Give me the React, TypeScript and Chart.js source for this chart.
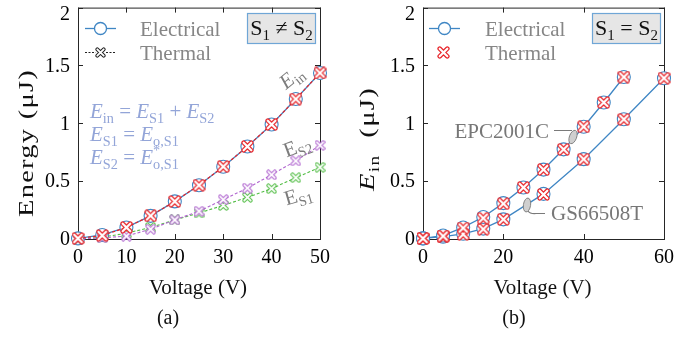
import React, { useEffect, useRef } from 'react';
import { Chart, registerables } from 'chart.js';
Chart.register(...registerables);

// ---------- data ----------
const voltageA = [0, 5, 10, 15, 20, 25, 30, 35, 40, 45, 50];
const einElecA = [0.005, 0.035, 0.1, 0.2, 0.325, 0.465, 0.625, 0.8, 0.99, 1.21, 1.435];
const einThermA = [0.005, 0.03, 0.1, 0.2, 0.325, 0.465, 0.625, 0.8, 0.99, 1.21, 1.435];
const es2ThermA = [0, 0.01, 0.025, 0.085, 0.165, 0.24, 0.34, 0.44, 0.555, 0.675, 0.81];
const es1ThermA = [0, 0.015, 0.05, 0.1, 0.165, 0.225, 0.29, 0.36, 0.435, 0.53, 0.62];

const voltageEpc = [0, 5, 10, 15, 20, 25, 30, 35, 40, 45, 50];
const einElecEpc = [0.005, 0.03, 0.1, 0.19, 0.31, 0.445, 0.6, 0.775, 0.97, 1.18, 1.4];
const einThermEpc = [0.005, 0.025, 0.095, 0.18, 0.305, 0.445, 0.6, 0.775, 0.97, 1.18, 1.4];
const voltageGs = [0, 5, 10, 15, 20, 30, 40, 50, 60];
const einElecGs = [0.005, 0.02, 0.045, 0.09, 0.17, 0.39, 0.69, 1.035, 1.39];
const einThermGs = [0.005, 0.02, 0.04, 0.085, 0.17, 0.385, 0.69, 1.035, 1.39];

const yTickValues = [0, 0.5, 1, 1.5, 2];

// ---------- styles ----------
const SERIF = "'Liberation Serif', 'Times New Roman', serif";
const BLUE = '#3f86c4';
const RED = '#e8262b';
const PURPLE = '#b064cf';
const GREEN = '#52bd45';
const GRAY = '#868686';
const FORMULA = '#93a5d8';

type Seg = { t: string; it?: boolean; sub?: boolean; sup?: boolean; noAdv?: boolean };

function segFont(s: Seg, size: number) {
  const sz = s.sub || s.sup ? size * 0.68 : size;
  return `${s.it ? 'italic ' : ''}${sz}px ${SERIF}`;
}
function richWidth(ctx: CanvasRenderingContext2D, segs: Seg[], size: number) {
  let w = 0;
  for (const s of segs) {
    ctx.font = segFont(s, size);
    if (!s.noAdv) w += ctx.measureText(s.t).width;
  }
  return w;
}
function drawRich(
  ctx: CanvasRenderingContext2D,
  segs: Seg[],
  x: number,
  y: number,
  size: number,
  color: string,
  align: 'left' | 'center' | 'right' = 'left'
) {
  const w = richWidth(ctx, segs, size);
  let cx = align === 'left' ? x : align === 'center' ? x - w / 2 : x - w;
  ctx.save();
  ctx.fillStyle = color;
  ctx.textBaseline = 'alphabetic';
  ctx.textAlign = 'left';
  for (const s of segs) {
    ctx.font = segFont(s, size);
    const dy = s.sub ? size * 0.22 : s.sup ? -size * 0.42 : 0;
    ctx.fillText(s.t, cx, y + dy);
    if (!s.noAdv) cx += ctx.measureText(s.t).width;
  }
  ctx.restore();
}

function makeX(color: string, size: number, outer: number, inner: number) {
  const c = document.createElement('canvas');
  c.width = size;
  c.height = size;
  const g = c.getContext('2d')!;
  const a = outer / 2 + 0.4;
  g.lineCap = 'round';
  g.beginPath();
  g.moveTo(a, a);
  g.lineTo(size - a, size - a);
  g.moveTo(size - a, a);
  g.lineTo(a, size - a);
  g.strokeStyle = color;
  g.lineWidth = outer;
  g.stroke();
  g.strokeStyle = '#ffffff';
  g.lineWidth = inner;
  g.stroke();
  return c;
}

function pts(xs: number[], ys: number[]) {
  return xs.map((x, i) => ({ x, y: ys[i] }));
}

function drawLegendAndBox(ctx: CanvasRenderingContext2D, panel: 'a' | 'b', xBlack: HTMLCanvasElement, xRed: HTMLCanvasElement, boxSym: string) {
  const lx0 = panel === 'a' ? 85 : 83;
  const lx1 = lx0 + 31;
  const mid = (lx0 + lx1) / 2;
  ctx.save();
  ctx.strokeStyle = BLUE;
  ctx.lineWidth = 1.3;
  ctx.beginPath();
  ctx.moveTo(lx0, 28.5);
  ctx.lineTo(lx1, 28.5);
  ctx.stroke();
  ctx.beginPath();
  ctx.arc(mid, 28.5, 6, 0, Math.PI * 2);
  ctx.fillStyle = '#fff';
  ctx.fill();
  ctx.stroke();
  if (panel === 'a') {
    ctx.strokeStyle = '#222';
    ctx.lineWidth = 1.1;
    ctx.setLineDash([2, 1.5]);
    ctx.beginPath();
    ctx.moveTo(lx0, 52.5);
    ctx.lineTo(lx1, 52.5);
    ctx.stroke();
    ctx.setLineDash([]);
    ctx.fillStyle = '#fff';
    ctx.fillRect(mid - 5, 47.5, 10, 10);
    ctx.drawImage(xBlack, mid - xBlack.width / 2, 52.5 - xBlack.height / 2);
  } else {
    ctx.drawImage(xRed, mid - 1 - xRed.width / 2, 52.5 - xRed.height / 2);
  }
  ctx.restore();
  drawRich(ctx, [{ t: 'Electrical' }], panel === 'a' ? 140 : 139, 35.5, 21, GRAY);
  drawRich(ctx, [{ t: 'Thermal' }], panel === 'a' ? 140 : 139, 59.5, 21, GRAY);

  const bx = panel === 'a' ? 247 : 246;
  ctx.save();
  ctx.fillStyle = '#e6e6e6';
  ctx.strokeStyle = '#6fa6d6';
  ctx.lineWidth = 1.2;
  ctx.fillRect(bx + 0.5, 13.5, 68, 30);
  ctx.strokeRect(bx + 0.5, 13.5, 68, 30);
  ctx.restore();
  drawRich(
    ctx,
    [{ t: 'S' }, { t: '1', sub: true }, { t: ` ${boxSym} ` }, { t: 'S' }, { t: '2', sub: true }],
    bx + 34.5,
    35,
    22,
    '#111',
    'center'
  );
}

function stretchedTitle(ctx: CanvasRenderingContext2D, segs: Seg[], cx: number, cy: number, size: number, target: number) {
  ctx.save();
  ctx.translate(cx, cy);
  ctx.rotate(-Math.PI / 2);
  (ctx as any).letterSpacing = '1px';
  const w = richWidth(ctx, segs, size);
  ctx.scale(target / w, 1);
  drawRich(ctx, segs, 0, 8, size, '#111', 'center');
  ctx.restore();
}

function decoPlugin(panel: 'a' | 'b', xBlack: HTMLCanvasElement, xRed: HTMLCanvasElement) {
  return {
    id: 'deco' + panel,
    beforeDatasetsDraw(chart: any) {
      const { ctx, chartArea: ca, scales } = chart;
      const xs = scales.x;
      const ys = scales.y;
      ctx.save();
      ctx.strokeStyle = '#262626';
      ctx.lineWidth = 1;
      ctx.strokeRect(ca.left + 0.5, ca.top + 0.5, ca.right - ca.left, ca.bottom - ca.top);
      ctx.beginPath();
      for (const t of xs.ticks) {
        const p = Math.round(xs.getPixelForValue(t.value)) + 0.5;
        ctx.moveTo(p, ca.bottom);
        ctx.lineTo(p, ca.bottom - 5);
        ctx.moveTo(p, ca.top);
        ctx.lineTo(p, ca.top + 5);
      }
      for (const t of ys.ticks) {
        const p = Math.round(ys.getPixelForValue(t.value)) + 0.5;
        ctx.moveTo(ca.left, p);
        ctx.lineTo(ca.left + 5, p);
        ctx.moveTo(ca.right, p);
        ctx.lineTo(ca.right - 5, p);
      }
      ctx.stroke();
      ctx.fillStyle = '#000';
      ctx.font = `20px ${SERIF}`;
      ctx.textAlign = 'right';
      ctx.textBaseline = 'middle';
      for (const t of ys.ticks) {
        const p = Math.max(ys.getPixelForValue(t.value), ca.top + 6);
        ctx.fillText(String(t.value), ca.left - 8, p + 1);
      }
      ctx.restore();
    },
    afterDraw(chart: any) {
      const { ctx, chartArea: ca } = chart;
      const cxPlot = (ca.left + ca.right) / 2;
      drawRich(ctx, [{ t: 'Voltage (V)' }], cxPlot - 1, 294, 21, '#111', 'center');
      drawRich(ctx, [{ t: panel === 'a' ? '(a)' : '(b)' }], 168, 324, 20, '#111', 'center');

      if (panel === 'a') {
        stretchedTitle(ctx, [{ t: 'Energy (\u03bcJ)' }], 25, 143, 22, 148);
      } else {
        stretchedTitle(ctx, [{ t: 'E', it: true }, { t: 'in', sub: true }, { t: '  (\u03bcJ)' }], 20, 139, 22, 104);
      }

      drawLegendAndBox(ctx, panel, xBlack, xRed, panel === 'a' ? '\u2260' : '=');

      if (panel === 'a') {
        drawRich(ctx, [{ t: 'E', it: true }, { t: 'in', sub: true }, { t: ' = ' }, { t: 'E', it: true }, { t: 'S1', sub: true }, { t: ' + ' }, { t: 'E', it: true }, { t: 'S2', sub: true }], 90, 118, 21, FORMULA);
        drawRich(ctx, [{ t: 'E', it: true }, { t: 'S1', sub: true }, { t: ' = ' }, { t: 'E', it: true }, { t: 'o,S1', sub: true }], 90, 141, 21, FORMULA);
        drawRich(ctx, [{ t: 'E', it: true }, { t: 'S2', sub: true }, { t: ' = ' }, { t: 'E', it: true }, { t: '*', sup: true, noAdv: true }, { t: 'o,S1', sub: true }], 90, 164, 21, FORMULA);
        const lab = (segs: Seg[], x: number, y: number, ang: number) => {
          ctx.save();
          ctx.translate(x, y);
          ctx.rotate(ang);
          drawRich(ctx, segs, 0, 7, 21, '#7c7c7c', 'center');
          ctx.restore();
        };
        lab([{ t: 'E', it: true }, { t: 'in', sub: true }], 291, 77, -0.68);
        lab([{ t: 'E' }, { t: 'S2', sub: true }], 297, 146, -0.36);
        lab([{ t: 'E' }, { t: 'S1', sub: true }], 298, 195, -0.28);
      } else {
        ctx.save();
        ctx.strokeStyle = '#7a7a7a';
        ctx.lineWidth = 1.2;
        ctx.beginPath();
        ctx.moveTo(208, 130.5);
        ctx.lineTo(226, 130.5);
        ctx.moveTo(182, 211);
        ctx.quadraticCurveTo(184, 214, 190, 213.5);
        ctx.lineTo(199, 213.5);
        ctx.stroke();
        ctx.fillStyle = '#cfcfcf';
        ctx.strokeStyle = '#777';
        ctx.lineWidth = 0.9;
        ctx.beginPath();
        ctx.ellipse(227, 137, 3.6, 7, 0.35, 0, Math.PI * 2);
        ctx.fill();
        ctx.stroke();
        ctx.beginPath();
        ctx.ellipse(181, 205, 3.6, 7, 0.15, 0, Math.PI * 2);
        ctx.fill();
        ctx.stroke();
        ctx.restore();
        drawRich(ctx, [{ t: 'EPC2001C' }], 203, 138, 21, '#777', 'right');
        drawRich(ctx, [{ t: 'GS66508T' }], 205, 220, 21, '#777', 'left');
      }
    },
  };
}

function buildConfig(panel: 'a' | 'b', xBlack: HTMLCanvasElement, xRed: HTMLCanvasElement, xPurple: HTMLCanvasElement, xGreen: HTMLCanvasElement) {
  const elecStyle = {
    borderColor: BLUE,
    borderWidth: 1.3,
    pointRadius: 6.5,
    pointBorderWidth: 1.1,
    pointBackgroundColor: 'rgba(255,255,255,0.92)',
    pointBorderColor: BLUE,
    tension: 0,
    clip: false as const,
  };
  const datasets: any[] =
    panel === 'a'
      ? [
          { label: 'Thermal Ein', data: pts(voltageA, einThermA), borderColor: RED, borderWidth: 1.2, borderDash: [3, 2], pointStyle: xRed, pointRadius: 6, clip: false },
          { label: 'Thermal ES2', data: pts(voltageA, es2ThermA), borderColor: PURPLE, borderWidth: 1.1, borderDash: [3, 2], pointStyle: xPurple, pointRadius: 5, clip: false },
          { label: 'Thermal ES1', data: pts(voltageA, es1ThermA), borderColor: GREEN, borderWidth: 1.1, borderDash: [3, 2], pointStyle: xGreen, pointRadius: 5, clip: false },
          { label: 'Electrical Ein', data: pts(voltageA, einElecA), ...elecStyle },
        ]
      : [
          { label: 'Thermal EPC', data: pts(voltageEpc, einThermEpc), showLine: false, pointStyle: xRed, pointRadius: 6, clip: false },
          { label: 'Thermal GS', data: pts(voltageGs, einThermGs), showLine: false, pointStyle: xRed, pointRadius: 6, clip: false },
          { label: 'Electrical EPC', data: pts(voltageEpc, einElecEpc), ...elecStyle },
          { label: 'Electrical GS', data: pts(voltageGs, einElecGs), ...elecStyle },
        ];
  const xMax = panel === 'a' ? 50 : 60;
  const xStep = panel === 'a' ? 10 : 20;
  return {
    type: 'line' as const,
    data: { datasets },
    options: {
      responsive: false,
      animation: false as const,
      events: [] as any[],
      layout: { padding: { left: 0, top: 5, right: panel === 'a' ? 26 : 28, bottom: 0 } },
      plugins: { legend: { display: false }, tooltip: { enabled: false } },
      scales: {
        x: {
          type: 'linear' as const,
          min: 0,
          max: xMax,
          grid: { display: false, drawTicks: false },
          border: { display: false },
          ticks: { stepSize: xStep, autoSkip: false, maxRotation: 0, color: '#000', padding: 7, font: { family: SERIF, size: 20 } },
          afterFit: (s: any) => {
            s.height = 99;
            s.paddingLeft = 0;
            s.paddingRight = 0;
          },
        },
        y: {
          type: 'linear' as const,
          min: 0,
          max: 2,
          grid: { display: false, drawTicks: false },
          border: { display: false },
          ticks: { stepSize: 0.5, display: false },
          afterBuildTicks: (s: any) => {
            s.ticks = yTickValues.map((v) => ({ value: v }));
          },
          afterFit: (s: any) => {
            s.width = panel === 'a' ? 78 : 77;
            s.paddingTop = 0;
            s.paddingBottom = 0;
          },
        },
      },
    },
    plugins: [decoPlugin(panel, xBlack, xRed)],
  };
}

export default function App() {
  const refA = useRef<HTMLCanvasElement>(null);
  const refB = useRef<HTMLCanvasElement>(null);
  useEffect(() => {
    const xRed = makeX(RED, 13, 4.6, 2.2);
    const xPurple = makeX(PURPLE, 11, 3.8, 1.9);
    const xGreen = makeX(GREEN, 11, 3.8, 1.9);
    const xBlack = makeX('#222', 11, 3.8, 1.9);
    const a = new Chart(refA.current!, buildConfig('a', xBlack, xRed, xPurple, xGreen) as any);
    const b = new Chart(refB.current!, buildConfig('b', xBlack, xRed, xPurple, xGreen) as any);
    return () => {
      a.destroy();
      b.destroy();
    };
  }, []);
  return (
    <div style={{ position: 'fixed', left: 0, top: 0, width: 692, height: 338, background: '#fff' }}>
      <canvas ref={refA} width={346} height={338} style={{ position: 'absolute', left: 0, top: 0, width: 346, height: 338 }} />
      <canvas ref={refB} width={346} height={338} style={{ position: 'absolute', left: 346, top: 0, width: 346, height: 338 }} />
    </div>
  );
}
